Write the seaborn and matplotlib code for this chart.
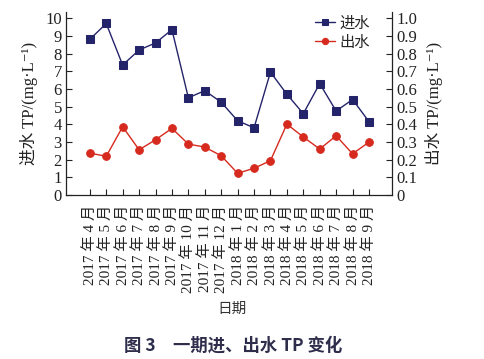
import numpy as np
import pandas as pd
import matplotlib
matplotlib.use("Agg")
import matplotlib.pyplot as plt
import seaborn as sns

months = ["2017 年 4 月", "2017 年 5 月", "2017 年 6 月", "2017 年 7 月", "2017 年 8 月",
          "2017 年 9 月", "2017 年 10 月", "2017 年 11 月", "2017 年 12 月",
          "2018 年 1 月", "2018 年 2 月", "2018 年 3 月", "2018 年 4 月", "2018 年 5 月",
          "2018 年 6 月", "2018 年 7 月", "2018 年 8 月", "2018 年 9 月"]
inflow = [8.8, 9.7, 7.35, 8.2, 8.6, 9.35, 5.5, 5.9, 5.25, 4.2, 3.8, 6.95,
          5.7, 4.6, 6.3, 4.75, 5.4, 4.15]
outflow = [0.237, 0.219, 0.386, 0.256, 0.312, 0.377, 0.288, 0.271, 0.222,
           0.123, 0.151, 0.194, 0.401, 0.328, 0.26, 0.335, 0.233, 0.299]
left_ticks = list(range(0, 11))
right_ticks = [0, 0.1, 0.2, 0.3, 0.4, 0.5, 0.6, 0.7, 0.8, 0.9, 1.0]
right_ticklabels = ["0", "0.1", "0.2", "0.3", "0.4", "0.5", "0.6", "0.7", "0.8", "0.9", "1.0"]

sns.set_style("white")
plt.rcParams['font.family'] = ['Liberation Serif', 'Noto Sans CJK SC', 'DejaVu Serif']
plt.rcParams['axes.unicode_minus'] = False

df = pd.DataFrame({"idx": np.arange(len(months)), "month": months,
                   "inflow": inflow, "outflow": outflow})

blue = "#24246a"
red = "#d62a1e"
textc = "#222222"

fig = plt.figure(figsize=(4.85, 3.59), dpi=100)
ax = fig.add_axes([0.1361, 0.4568, 0.6721, 0.5098])
ax2 = ax.twinx()

sns.lineplot(data=df, x="idx", y="inflow", ax=ax, color=blue, marker="s",
             markersize=5.5, markeredgecolor=blue, linewidth=1.0, legend=False)
sns.lineplot(data=df, x="idx", y="outflow", ax=ax2, color=red, marker="o",
             markersize=5.5, markeredgecolor=red, linewidth=1.0, legend=False)

ax.set_xlim(-1.45, len(months) - 1 + 1.4)
ax.set_ylim(0, 10.35)
ax2.set_ylim(0, 1.035)

ax.set_xticks(df["idx"])
ax.set_xticklabels(months, rotation=90, fontsize=11, color=textc)
ax.set_yticks(left_ticks)
ax.set_yticklabels([str(t) for t in left_ticks], fontsize=12, color=textc)
ax2.set_yticks(right_ticks)
ax2.set_yticklabels(right_ticklabels, fontsize=12, color=textc)

ax.tick_params(axis='x', direction='in', length=4, width=0.8, pad=7, colors=textc,
               bottom=True, top=False)
ax.tick_params(axis='y', direction='in', length=4, width=0.8, pad=3, colors=textc,
               left=True, right=False)
ax2.tick_params(axis='y', direction='in', length=4, width=0.8, pad=3, colors=textc,
                right=True, left=False)

for a in (ax, ax2):
    a.spines['top'].set_visible(False)
    for s in ('left', 'right', 'bottom'):
        a.spines[s].set_color(textc)
        a.spines[s].set_linewidth(0.9)
ax.spines['right'].set_visible(False)
ax2.spines['left'].set_visible(False)
ax2.spines['bottom'].set_visible(False)

ax.set_xlabel("")
ax.set_ylabel("进水 TP/(mg·L⁻¹)", fontsize=12, color=textc, labelpad=5)
ax2.set_ylabel("出水 TP/(mg·L⁻¹)", fontsize=12, color=textc, labelpad=6)

handles = [ax.lines[0], ax2.lines[0]]
leg = fig.legend(handles, ["进水", "出水"], loc="upper left",
                 bbox_to_anchor=(0.628, 0.985), frameon=False,
                 fontsize=11, handlelength=1.3, handletextpad=0.3,
                 labelspacing=0.35, borderpad=0.2)
for h in leg.legend_handles:
    h.set_markersize(4.5)

fig.text(232 / 485, 1 - 309 / 359, "日期", ha="center", va="center",
         fontsize=10.5, color="#333333")
fig.text(233 / 485, 1 - 346 / 359, "图 3　一期进、出水 TP 变化", ha="center",
         va="center", fontsize=12.5, color="#2e2e4c",
         family=['Noto Sans CJK SC', 'DejaVu Sans'], fontweight='bold')

fig.savefig("out.png", dpi=100)
